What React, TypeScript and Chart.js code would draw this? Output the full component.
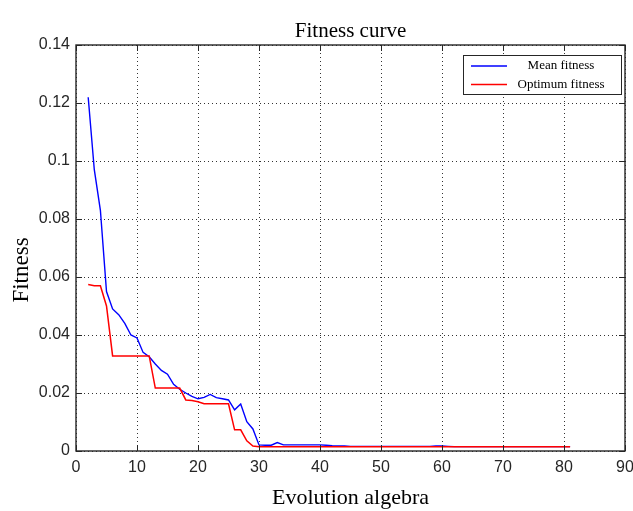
import { useEffect, useRef } from 'react';
import { Chart, registerables } from 'chart.js';

Chart.register(...registerables);

const chartTitle = 'Fitness curve';
const xAxisTitle = 'Evolution algebra';
const yAxisTitle = 'Fitness';
const seriesNames = ['Mean fitness', 'Optimum fitness'];

const generations = [
  2, 3, 4, 5, 6, 7, 8, 9, 10, 11,
  12, 13, 14, 15, 16, 17, 18, 19, 20, 21,
  22, 23, 24, 25, 26, 27, 28, 29, 30, 31,
  32, 33, 34, 35, 36, 37, 38, 39, 40, 41,
  42, 43, 44, 45, 46, 47, 48, 49, 50, 51,
  52, 53, 54, 55, 56, 57, 58, 59, 60, 61,
  62, 63, 64, 65, 66, 67, 68, 69, 70, 71,
  72, 73, 74, 75, 76, 77, 78, 79, 80, 81,
];

const meanFitness = [
  0.122, 0.097, 0.083, 0.055, 0.049, 0.047, 0.044, 0.040, 0.039, 0.034,
  0.0325, 0.030, 0.0278, 0.0265, 0.023, 0.0213, 0.020, 0.0188, 0.018, 0.0185,
  0.0195, 0.0184, 0.018, 0.0176, 0.0142, 0.0162, 0.0101, 0.0076, 0.0021, 0.0020,
  0.0020, 0.0029, 0.0021, 0.0021, 0.0021, 0.0021, 0.0021, 0.0021, 0.0021, 0.0020,
  0.0018, 0.0017, 0.0017, 0.0016, 0.0016, 0.0016, 0.0016, 0.0016, 0.0016, 0.0016,
  0.0016, 0.0016, 0.0016, 0.0016, 0.0016, 0.0016, 0.0016, 0.0017, 0.0017, 0.0016,
  0.0015, 0.0015, 0.0015, 0.0015, 0.0015, 0.0015, 0.0015, 0.0015, 0.0015, 0.0015,
  0.0015, 0.0015, 0.0015, 0.0015, 0.0015, 0.0015, 0.0015, 0.0015, 0.0015, 0.0015,
];

const optimumFitness = [
  0.0574, 0.057, 0.057, 0.050, 0.0328, 0.0328, 0.0328, 0.0328, 0.0328, 0.0328,
  0.0328, 0.0217, 0.0217, 0.0217, 0.0217, 0.0217, 0.0176, 0.0174, 0.017, 0.0163,
  0.0163, 0.0163, 0.0163, 0.0163, 0.0073, 0.0073, 0.0035, 0.0017, 0.0015, 0.0015,
  0.0015, 0.0015, 0.0015, 0.0015, 0.0015, 0.0015, 0.0015, 0.0015, 0.0015, 0.0015,
  0.0015, 0.0015, 0.0015, 0.0015, 0.0015, 0.0015, 0.0015, 0.0015, 0.0015, 0.0015,
  0.0015, 0.0015, 0.0015, 0.0015, 0.0015, 0.0015, 0.0015, 0.0015, 0.0015, 0.0015,
  0.0015, 0.0015, 0.0015, 0.0015, 0.0015, 0.0015, 0.0015, 0.0015, 0.0015, 0.0015,
  0.0015, 0.0015, 0.0015, 0.0015, 0.0015, 0.0015, 0.0015, 0.0015, 0.0015, 0.0015,
];

const xTickValues = [0, 10, 20, 30, 40, 50, 60, 70, 80, 90];
const xTickLabels = ['0', '10', '20', '30', '40', '50', '60', '70', '80', '90'];
const yTickValues = [0, 0.02, 0.04, 0.06, 0.08, 0.1, 0.12, 0.14];
const yTickLabels = ['0', '0.02', '0.04', '0.06', '0.08', '0.1', '0.12', '0.14'];

const seriesColors = ['#0000ff', '#ff0000'];

export default function App() {
  const canvasRef = useRef<HTMLCanvasElement>(null);

  useEffect(() => {
    const canvas = canvasRef.current;
    if (!canvas) return;
    const AXIS = '#262626';
    const serif = '"Liberation Serif", "Times New Roman", serif';
    const sans = '"Liberation Sans", Arial, sans-serif';

    const framePlugin = {
      id: 'matlabFrame',
      afterDatasetsDraw(chart: any) {
        const { ctx, chartArea: a, scales } = chart;
        ctx.save();
        ctx.setLineDash([]);
        ctx.strokeStyle = AXIS;
        ctx.lineWidth = 1;
        const L = 6;
        ctx.beginPath();
        xTickValues.forEach((v) => {
          const px = Math.round(scales.x.getPixelForValue(v)) + 0.5;
          ctx.moveTo(px, a.bottom);
          ctx.lineTo(px, a.bottom - L);
          ctx.moveTo(px, a.top);
          ctx.lineTo(px, a.top + L);
        });
        yTickValues.forEach((v) => {
          const py = Math.round(scales.y.getPixelForValue(v)) + 0.5;
          ctx.moveTo(a.left, py);
          ctx.lineTo(a.left + L, py);
          ctx.moveTo(a.right, py);
          ctx.lineTo(a.right - L, py);
        });
        ctx.stroke();
        ctx.lineWidth = 1.4;
        ctx.strokeRect(a.left, a.top, a.right - a.left, a.bottom - a.top);
        ctx.restore();
      },
      afterDraw(chart: any) {
        const { ctx, chartArea: a } = chart;
        ctx.save();
        // legend
        const bx = a.right - 162;
        const by = a.top + 10;
        const bw = 158;
        const bh = 39;
        ctx.fillStyle = '#ffffff';
        ctx.fillRect(bx, by, bw, bh);
        ctx.strokeStyle = AXIS;
        ctx.lineWidth = 1;
        ctx.strokeRect(bx + 0.5, by + 0.5, bw, bh);
        ctx.font = `13px ${serif}`;
        ctx.textAlign = 'center';
        ctx.textBaseline = 'middle';
        seriesNames.forEach((name, i) => {
          const ly = by + 11 + i * 18.5;
          ctx.strokeStyle = seriesColors[i];
          ctx.lineWidth = 1.5;
          ctx.beginPath();
          ctx.moveTo(bx + 8, ly);
          ctx.lineTo(bx + 44, ly);
          ctx.stroke();
          ctx.fillStyle = '#000000';
          ctx.fillText(name, bx + 98, ly);
        });
        // titles
        const cx = (a.left + a.right) / 2;
        ctx.fillStyle = '#000000';
        ctx.textAlign = 'center';
        ctx.textBaseline = 'alphabetic';
        ctx.font = `21px ${serif}`;
        ctx.fillText(chartTitle, cx, 37);
        ctx.font = `22px ${serif}`;
        ctx.fillText(xAxisTitle, cx, 504);
        ctx.save();
        ctx.translate(28, 270);
        ctx.rotate(-Math.PI / 2);
        ctx.font = `23px ${serif}`;
        ctx.fillText(yAxisTitle, 0, 0);
        ctx.restore();
        ctx.restore();
      },
    };

    const chart = new Chart(canvas, {
      type: 'line',
      data: {
        datasets: [
          {
            label: seriesNames[0],
            data: generations.map((g, i) => ({ x: g, y: meanFitness[i] })),
            borderColor: seriesColors[0],
            backgroundColor: seriesColors[0],
            borderWidth: 1.4,
            pointRadius: 0,
            tension: 0,
            fill: false,
            order: 1,
          },
          {
            label: seriesNames[1],
            data: generations.map((g, i) => ({ x: g, y: optimumFitness[i] })),
            borderColor: seriesColors[1],
            backgroundColor: seriesColors[1],
            borderWidth: 1.5,
            pointRadius: 0,
            tension: 0,
            fill: false,
            order: 0,
          },
        ],
      },
      options: {
        animation: false,
        responsive: true,
        maintainAspectRatio: false,
        layout: { padding: { top: 45, left: 0, right: 8, bottom: 0 } },
        plugins: {
          legend: { display: false },
          title: { display: false },
          tooltip: { enabled: false },
        },
        scales: {
          x: {
            type: 'linear',
            min: 0,
            max: 90,
            afterBuildTicks: (axis: any) => {
              axis.ticks = xTickValues.map((v) => ({ value: v }));
            },
            afterFit: (scale: any) => {
              scale.height = 60;
              scale.paddingLeft = 0;
              scale.paddingRight = 0;
            },
            ticks: {
              autoSkip: false,
              maxRotation: 0,
              padding: 7,
              color: AXIS,
              font: { family: sans, size: 16 },
              callback: (_v: any, i: number) => xTickLabels[i],
            },
            grid: {
              drawTicks: false,
              color: 'rgba(0,0,0,0.8)',
              lineWidth: 1,
            },
            border: { display: false, dash: [1, 3] },
          },
          y: {
            type: 'linear',
            min: 0,
            max: 0.14,
            afterBuildTicks: (axis: any) => {
              axis.ticks = yTickValues.map((v) => ({ value: v }));
            },
            afterFit: (scale: any) => {
              scale.width = 76;
              scale.paddingTop = 0;
              scale.paddingBottom = 0;
            },
            ticks: {
              autoSkip: false,
              padding: 6,
              color: AXIS,
              font: { family: sans, size: 16 },
              callback: (_v: any, i: number) => yTickLabels[i],
            },
            grid: {
              drawTicks: false,
              color: 'rgba(0,0,0,0.8)',
              lineWidth: 1,
            },
            border: { display: false, dash: [1, 3] },
          },
        },
      },
      plugins: [framePlugin],
    });

    return () => {
      chart.destroy();
    };
  }, []);

  return (
    <div
      style={{
        position: 'fixed',
        left: 0,
        top: 0,
        width: 633,
        height: 511,
        background: '#ffffff',
      }}
    >
      <canvas ref={canvasRef} />
    </div>
  );
}
